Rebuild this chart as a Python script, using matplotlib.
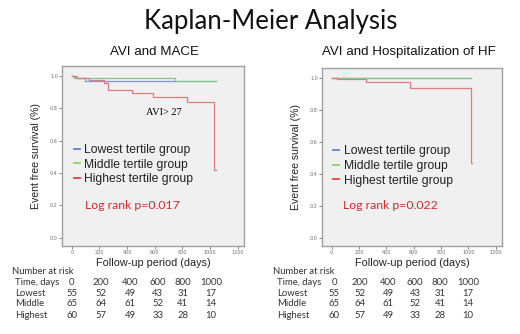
import matplotlib
matplotlib.use("Agg")
import matplotlib.pyplot as plt
from matplotlib.lines import Line2D

W, H = 520, 334

# survival curves (time in days, survival fraction), step "post"
mace_low_t = [0, 25, 95, 1040]
mace_low_s = [1.0, 0.985, 0.965, 0.965]
mace_mid_t = [0, 20, 745, 1040]
mace_mid_s = [1.0, 0.985, 0.965, 0.965]
mace_high_t = [0, 35, 125, 230, 262, 435, 585, 830, 1030, 1045]
mace_high_s = [1.0, 0.985, 0.972, 0.955, 0.915, 0.893, 0.866, 0.836, 0.42, 0.42]

hf_low_t = [0, 1020]
hf_low_s = [1.0, 1.0]
hf_mid_t = [0, 1020]
hf_mid_s = [1.0, 1.0]
hf_high_t = [0, 40, 255, 575, 1017, 1028]
hf_high_s = [1.0, 0.99, 0.97, 0.937, 0.47, 0.47]

groups = ["Lowest tertile group", "Middle tertile group", "Highest tertile group"]
pvals = ["Log rank p=0.017", "Log rank p=0.022"]
subtitles = ["AVI and MACE", "AVI and Hospitalization of HF"]

risk_times = ["0", "200", "400", "600", "800", "1000"]
risk_rows = ["Lowest", "Middle", "Highest"]
risk_low = [55, 52, 49, 43, 31, 17]
risk_mid = [65, 64, 61, 52, 41, 14]
risk_high = [60, 57, 49, 33, 28, 10]

line_cols = ["#7d9bd0", "#82c882", "#e07c80"]
leg_cols = ["#5a86c4", "#8fd36a", "#e0403c"]
sans = ["Liberation Sans", "DejaVu Sans"]
cal = ["Lato", "DejaVu Sans"]


def fx(px):
    return px / W


def fy(py):
    return 1 - py / H


fig = plt.figure(figsize=(W / 100, H / 100), dpi=100)
fig.text(fx(271), fy(21), "Kaplan-Meier Analysis", ha="center", va="center",
         fontsize=18.5, family=cal, color="#111111")

panels = [
    (62, 66, 244, 246, (mace_low_t, mace_low_s), (mace_mid_t, mace_mid_s),
     (mace_high_t, mace_high_s)),
    (322, 68, 502, 246, (hf_low_t, hf_low_s), (hf_mid_t, hf_mid_s),
     (hf_high_t, hf_high_s)),
]

for i, (x0, y0, x1, y1, low, mid, high) in enumerate(panels):
    ax = fig.add_axes([fx(x0), fy(y1), (x1 - x0) / W, (y1 - y0) / H])
    ax.set_facecolor("#f0f0f0")
    for sp in ax.spines.values():
        sp.set_color("#a0a0a0")
        sp.set_linewidth(1)
    for (t, s), c in zip([low, mid, high], line_cols):
        ax.step(t, s, where="post", color=c, lw=0.9)
    ax.set_xlim(-70, 1245)
    ax.set_ylim(-0.05, 1.06)
    ax.set_xticks([0, 200, 400, 600, 800, 1000, 1200])
    ax.set_yticks([0.0, 0.2, 0.4, 0.6, 0.8, 1.0])
    ax.set_yticklabels(["0.0", "0.2", "0.4", "0.6", "0.8", "1.0"])
    ax.tick_params(labelsize=3.5, length=2, width=0.6, colors="#707070",
                   pad=1)
    ax.set_ylabel("Event free survival (%)", family=sans, fontsize=7.6,
                  color="#222222")
    ax.yaxis.set_label_coords(-0.115, 0.5)
    ax.set_xlabel("Follow-up period (days)", family=sans, fontsize=7.8,
                  color="#222222")
    ax.xaxis.set_label_coords(0.5, -0.065)

    handles = [Line2D([], [], color=c, lw=1.3) for c in leg_cols]
    ax.legend(handles, groups, loc="upper left",
              bbox_to_anchor=(0.03, 0.6), frameon=False,
              prop={"family": sans, "size": 8.7}, handlelength=0.5,
              handletextpad=0.4, labelspacing=0.22, borderpad=0,
              labelcolor="#222222")
    ax.text(0.126 if i == 0 else 0.115, 0.225, pvals[i],
            transform=ax.transAxes, color="#d42a2a", fontsize=8.8,
            family=cal, va="center")
    fig.text(fx([154, 409][i]), fy(52), subtitles[i], ha="center",
             va="center", family=sans, fontsize=9.6, color="#111111")

# annotation in left panel
fig.text(fx(164), fy(113), "AVI> 27", ha="center", va="center",
         family=["Liberation Serif", "DejaVu Serif"], fontsize=7.5)

# numbers at risk tables
tables = [
    (12, 15, [71.7, 101, 130, 157.7, 182.7, 211]),
    (273, 277, [334, 360, 388, 415, 440, 468]),
]
rows = [risk_low, risk_mid, risk_high]
row_y = [293, 304, 315.5]
fs = 6.8
for nx0, tx0, cols in tables:
    fig.text(fx(nx0), fy(272), "Number at risk", family=cal, fontsize=fs,
             color="#333333", va="center")
    fig.text(fx(tx0), fy(282.5), "Time, days", family=cal, fontsize=fs,
             color="#333333", va="center")
    for cx, t in zip(cols, risk_times):
        fig.text(fx(cx), fy(282.5), t, family=cal, fontsize=fs,
                 color="#333333", va="center", ha="center")
    for ry, name, vals in zip(row_y, risk_rows, rows):
        fig.text(fx(tx0), fy(ry), name, family=cal, fontsize=fs,
                 color="#333333", va="center")
        for cx, v in zip(cols, vals):
            fig.text(fx(cx), fy(ry), str(v), family=cal, fontsize=fs,
                     color="#333333", va="center", ha="center")

fig.savefig("out.png", dpi=100)
